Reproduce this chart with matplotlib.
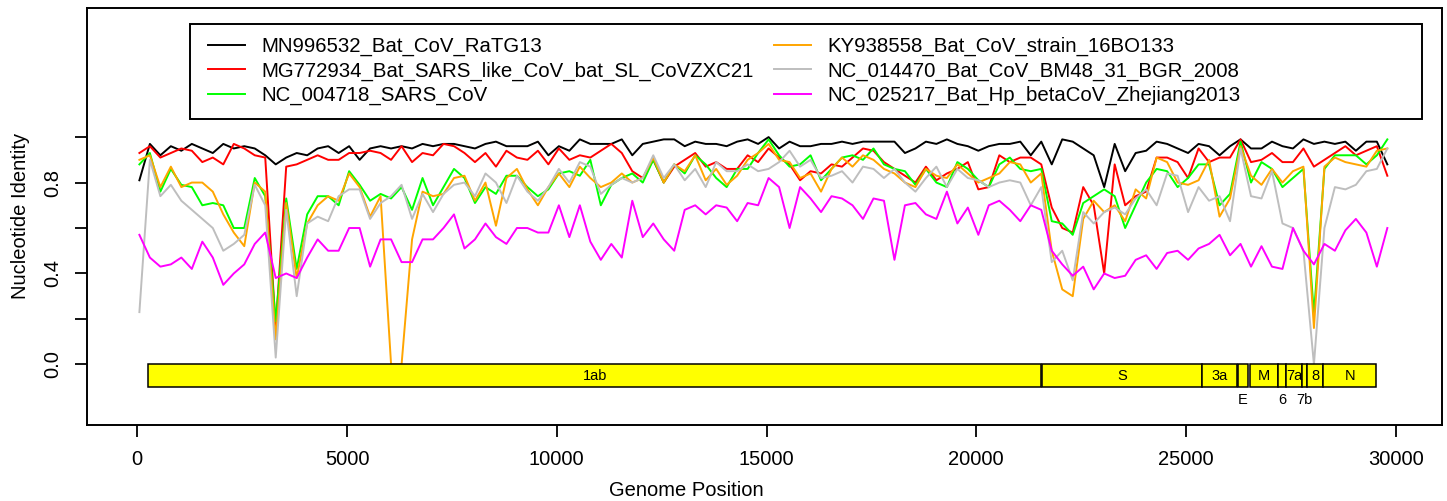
import numpy as np
import matplotlib
matplotlib.use("Agg")
import matplotlib.pyplot as plt
from matplotlib.patches import Rectangle

plt.rcParams['font.family'] = ['Liberation Sans', 'DejaVu Sans']

# window centres along the genome (bp)
pos = np.arange(50, 29801, 250)

names = ["MN996532_Bat_CoV_RaTG13",
         "MG772934_Bat_SARS_like_CoV_bat_SL_CoVZXC21",
         "NC_004718_SARS_CoV",
         "KY938558_Bat_CoV_strain_16BO133",
         "NC_014470_Bat_CoV_BM48_31_BGR_2008",
         "NC_025217_Bat_Hp_betaCoV_Zhejiang2013"]
colors = ["black", "red", "#00FF00", "orange", "#BEBEBE", "magenta"]

ratg13 = [0.81, 0.97, 0.92, 0.96, 0.94, 0.97, 0.95, 0.93, 0.97, 0.95, 0.96, 0.95, 0.92, 0.88, 0.91, 0.93, 0.92,
          0.95, 0.96, 0.93, 0.96, 0.90, 0.95, 0.96, 0.95, 0.96, 0.95, 0.97, 0.96, 0.97, 0.97, 0.96, 0.95, 0.97,
          0.98, 0.96, 0.96, 0.96, 0.98, 0.92, 0.96, 0.94, 0.99, 0.97, 0.97, 0.97, 0.99, 0.92, 0.97, 0.98, 0.99,
          0.99, 0.96, 0.98, 0.97, 0.97, 0.96, 0.98, 0.99, 0.97, 1.00, 0.95, 0.98, 0.96, 0.96, 0.97, 0.97, 0.98, 0.97,
          0.98, 0.98, 0.98, 0.98, 0.93, 0.95, 0.98, 0.97, 0.99, 0.97, 0.96, 0.94, 0.96, 0.97, 0.97, 0.98, 0.92,
          0.98, 0.88, 0.99, 0.98, 0.95, 0.92, 0.78, 0.97, 0.85, 0.93, 0.94, 0.98, 0.97, 0.95, 0.93, 0.97, 0.96,
          0.92, 0.96, 0.99, 0.95, 0.95, 0.98, 0.96, 0.95, 0.99, 0.97, 0.98, 0.97, 0.98, 0.94, 0.98, 0.98, 0.88]

zxc21 = [0.93, 0.96, 0.91, 0.93, 0.95, 0.94, 0.89, 0.91, 0.88, 0.97, 0.95, 0.92, 0.91, 0.16, 0.87, 0.88, 0.90,
         0.92, 0.90, 0.90, 0.93, 0.93, 0.94, 0.93, 0.90, 0.96, 0.89, 0.93, 0.92, 0.97, 0.96, 0.93, 0.89, 0.93,
         0.87, 0.94, 0.91, 0.90, 0.94, 0.88, 0.95, 0.90, 0.92, 0.91, 0.94, 0.97, 0.93, 0.85, 0.82, 0.90, 0.80,
         0.87, 0.90, 0.93, 0.87, 0.89, 0.86, 0.86, 0.92, 0.89, 0.95, 0.91, 0.88, 0.81, 0.85, 0.84, 0.88, 0.87, 0.91,
         0.95, 0.94, 0.89, 0.86, 0.83, 0.80, 0.87, 0.81, 0.84, 0.86, 0.89, 0.77, 0.78, 0.92, 0.89, 0.91, 0.91,
         0.88, 0.69, 0.60, 0.58, 0.78, 0.70, 0.40, 0.88, 0.70, 0.74, 0.76, 0.91, 0.91, 0.89, 0.82, 0.95, 0.89,
         0.91, 0.91, 0.99, 0.89, 0.90, 0.93, 0.89, 0.89, 0.95, 0.87, 0.90, 0.93, 0.96, 0.92, 0.94, 0.96, 0.83]

sars = [0.88, 0.93, 0.76, 0.86, 0.79, 0.78, 0.70, 0.71, 0.70, 0.60, 0.60, 0.82, 0.74, 0.19, 0.73, 0.42, 0.66,
        0.74, 0.74, 0.70, 0.85, 0.79, 0.72, 0.75, 0.73, 0.78, 0.68, 0.82, 0.70, 0.78, 0.86, 0.82, 0.71, 0.78,
        0.75, 0.83, 0.83, 0.78, 0.74, 0.77, 0.84, 0.85, 0.83, 0.90, 0.70, 0.79, 0.82, 0.84, 0.80, 0.90, 0.80,
        0.88, 0.84, 0.92, 0.88, 0.82, 0.78, 0.86, 0.86, 0.93, 0.99, 0.92, 0.87, 0.88, 0.92, 0.81, 0.86, 0.91, 0.92,
        0.90, 0.95, 0.88, 0.86, 0.85, 0.79, 0.86, 0.80, 0.78, 0.89, 0.86, 0.81, 0.78, 0.88, 0.91, 0.86, 0.85,
        0.86, 0.63, 0.62, 0.57, 0.71, 0.74, 0.77, 0.74, 0.60, 0.70, 0.80, 0.86, 0.85, 0.78, 0.82, 0.88, 0.88,
        0.70, 0.75, 0.98, 0.80, 0.89, 0.86, 0.78, 0.82, 0.86, 0.22, 0.86, 0.92, 0.92, 0.92, 0.88, 0.92, 0.99]

bo133 = [0.90, 0.92, 0.78, 0.87, 0.78, 0.80, 0.80, 0.76, 0.66, 0.58, 0.52, 0.80, 0.76, 0.11, 0.71, 0.38, 0.62,
         0.70, 0.74, 0.72, 0.84, 0.78, 0.65, 0.74, 0.00, 0.00, 0.55, 0.76, 0.74, 0.75, 0.82, 0.83, 0.72, 0.80,
         0.61, 0.82, 0.86, 0.77, 0.70, 0.78, 0.84, 0.78, 0.87, 0.82, 0.78, 0.80, 0.84, 0.80, 0.82, 0.91, 0.80,
         0.88, 0.85, 0.92, 0.81, 0.86, 0.79, 0.83, 0.90, 0.93, 0.97, 0.90, 0.89, 0.82, 0.84, 0.76, 0.86, 0.91, 0.87,
         0.92, 0.90, 0.86, 0.84, 0.80, 0.78, 0.86, 0.83, 0.82, 0.88, 0.84, 0.80, 0.82, 0.84, 0.89, 0.88, 0.80,
         0.84, 0.50, 0.33, 0.30, 0.64, 0.72, 0.67, 0.70, 0.63, 0.77, 0.73, 0.91, 0.89, 0.80, 0.79, 0.81, 0.90,
         0.65, 0.73, 0.96, 0.83, 0.79, 0.86, 0.80, 0.85, 0.87, 0.16, 0.87, 0.91, 0.89, 0.88, 0.87, 0.94, 0.95]

bm48 = [0.23, 0.90, 0.74, 0.79, 0.72, 0.68, 0.64, 0.60, 0.50, 0.53, 0.57, 0.79, 0.70, 0.03, 0.68, 0.30, 0.62,
        0.65, 0.63, 0.74, 0.77, 0.77, 0.64, 0.71, 0.74, 0.79, 0.64, 0.75, 0.67, 0.75, 0.79, 0.80, 0.74, 0.84,
        0.80, 0.71, 0.83, 0.76, 0.72, 0.78, 0.86, 0.80, 0.89, 0.87, 0.75, 0.79, 0.82, 0.80, 0.82, 0.92, 0.82,
        0.88, 0.81, 0.86, 0.78, 0.89, 0.85, 0.85, 0.88, 0.85, 0.86, 0.89, 0.94, 0.87, 0.90, 0.82, 0.83, 0.85, 0.80,
        0.87, 0.86, 0.82, 0.86, 0.80, 0.76, 0.82, 0.87, 0.78, 0.86, 0.82, 0.81, 0.78, 0.80, 0.81, 0.80, 0.70,
        0.78, 0.45, 0.50, 0.37, 0.67, 0.62, 0.67, 0.69, 0.66, 0.73, 0.77, 0.70, 0.84, 0.83, 0.67, 0.78, 0.72,
        0.74, 0.63, 0.95, 0.74, 0.73, 0.85, 0.62, 0.60, 0.50, 0.00, 0.60, 0.78, 0.77, 0.79, 0.85, 0.86, 0.95]

zhejiang = [0.57, 0.47, 0.43, 0.44, 0.47, 0.42, 0.54, 0.47, 0.35, 0.40, 0.44, 0.53, 0.58, 0.38, 0.40, 0.38, 0.47,
            0.55, 0.50, 0.50, 0.60, 0.60, 0.43, 0.55, 0.55, 0.45, 0.45, 0.55, 0.55, 0.60, 0.66, 0.51, 0.55, 0.62,
            0.56, 0.53, 0.60, 0.60, 0.58, 0.58, 0.70, 0.56, 0.70, 0.54, 0.46, 0.53, 0.47, 0.72, 0.56, 0.62, 0.55,
            0.50, 0.68, 0.70, 0.66, 0.70, 0.69, 0.63, 0.71, 0.70, 0.82, 0.78, 0.60, 0.78, 0.73, 0.67, 0.74, 0.73, 0.70,
            0.64, 0.73, 0.72, 0.46, 0.70, 0.71, 0.66, 0.64, 0.76, 0.62, 0.69, 0.57, 0.70, 0.72, 0.68, 0.63, 0.70,
            0.68, 0.50, 0.44, 0.39, 0.43, 0.33, 0.40, 0.38, 0.39, 0.46, 0.48, 0.42, 0.49, 0.50, 0.46, 0.51, 0.53,
            0.57, 0.48, 0.53, 0.43, 0.52, 0.43, 0.42, 0.60, 0.50, 0.44, 0.53, 0.50, 0.59, 0.64, 0.58, 0.43, 0.60]

series = [ratg13, zxc21, sars, bo133, bm48, zhejiang]

# genome annotation (SARS-CoV-2 coordinates)
genes = ["1ab", "S", "3a", "E", "M", "6", "7a", "7b", "8", "N"]
gene_start = [266, 21563, 25393, 26245, 26523, 27202, 27394, 27756, 27894, 28274]
gene_end = [21555, 25384, 26220, 26472, 27191, 27387, 27759, 27887, 28259, 29533]
label_below = ["E", "6", "7b"]

W, H = 1447, 501
fig = plt.figure(figsize=(W / 100, H / 100), dpi=100)
ax = fig.add_axes([87 / W, 1 - 425.3 / H, (1441.7 - 87) / W, (425.3 - 8) / H])

lines = []
for vals, col, nm in zip(series, colors, names):
    ln, = ax.plot(pos, vals, color=col, lw=1.4, label=nm, zorder=2)
    lines.append(ln)

for g, s, e in zip(genes, gene_start, gene_end):
    ax.add_patch(Rectangle((s, -0.1), e - s, 0.1, facecolor="yellow",
                           edgecolor="black", lw=1.1, zorder=3))
    if g in label_below:
        ax.text((s + e) / 2, -0.155, g, ha="center", va="center", fontsize=10.5, zorder=4)
    else:
        ax.text((s + e) / 2, -0.05, g, ha="center", va="center", fontsize=10.5, zorder=4)

ax.set_xlim(-1199, 31096)
ax.set_ylim(-0.268, 1.568)
ax.set_xticks([0, 5000, 10000, 15000, 20000, 25000, 30000])
ax.set_xticklabels(["0", "5000", "10000", "15000", "20000", "25000", "30000"])
ax.set_yticks([0, 0.2, 0.4, 0.6, 0.8, 1.0])
ax.set_yticklabels(["0.0", "", "0.4", "", "0.8", ""], rotation=90, va="center")
ax.tick_params(axis="both", direction="out", length=8.6, width=1.3, labelsize=14.5)
ax.tick_params(axis="x", pad=9)
ax.tick_params(axis="y", pad=9)
for sp in ax.spines.values():
    sp.set_linewidth(1.4)

fig.text(686 / W, 1 - 490 / H, "Genome Position", ha="center", va="center", fontsize=14.5)
fig.text(21 / W, 1 - 216 / H, "Nucleotide Identity", ha="center", va="center",
         rotation=90, fontsize=14.5)

leg = fig.legend(handles=lines, ncol=2, loc="upper left", frameon=False,
                 bbox_to_anchor=(208 / W, 1 - 37 / H), bbox_transform=fig.transFigure,
                 fontsize=14.7, handlelength=1.8, handletextpad=0.82, columnspacing=1.0,
                 labelspacing=0.25, borderpad=0, borderaxespad=0)
fig.add_artist(Rectangle((190 / W, 1 - 118.7 / H), 1232 / W, 95 / H, fill=False,
                         edgecolor="black", lw=1.4, transform=fig.transFigure))

fig.savefig("out.png", dpi=100)
